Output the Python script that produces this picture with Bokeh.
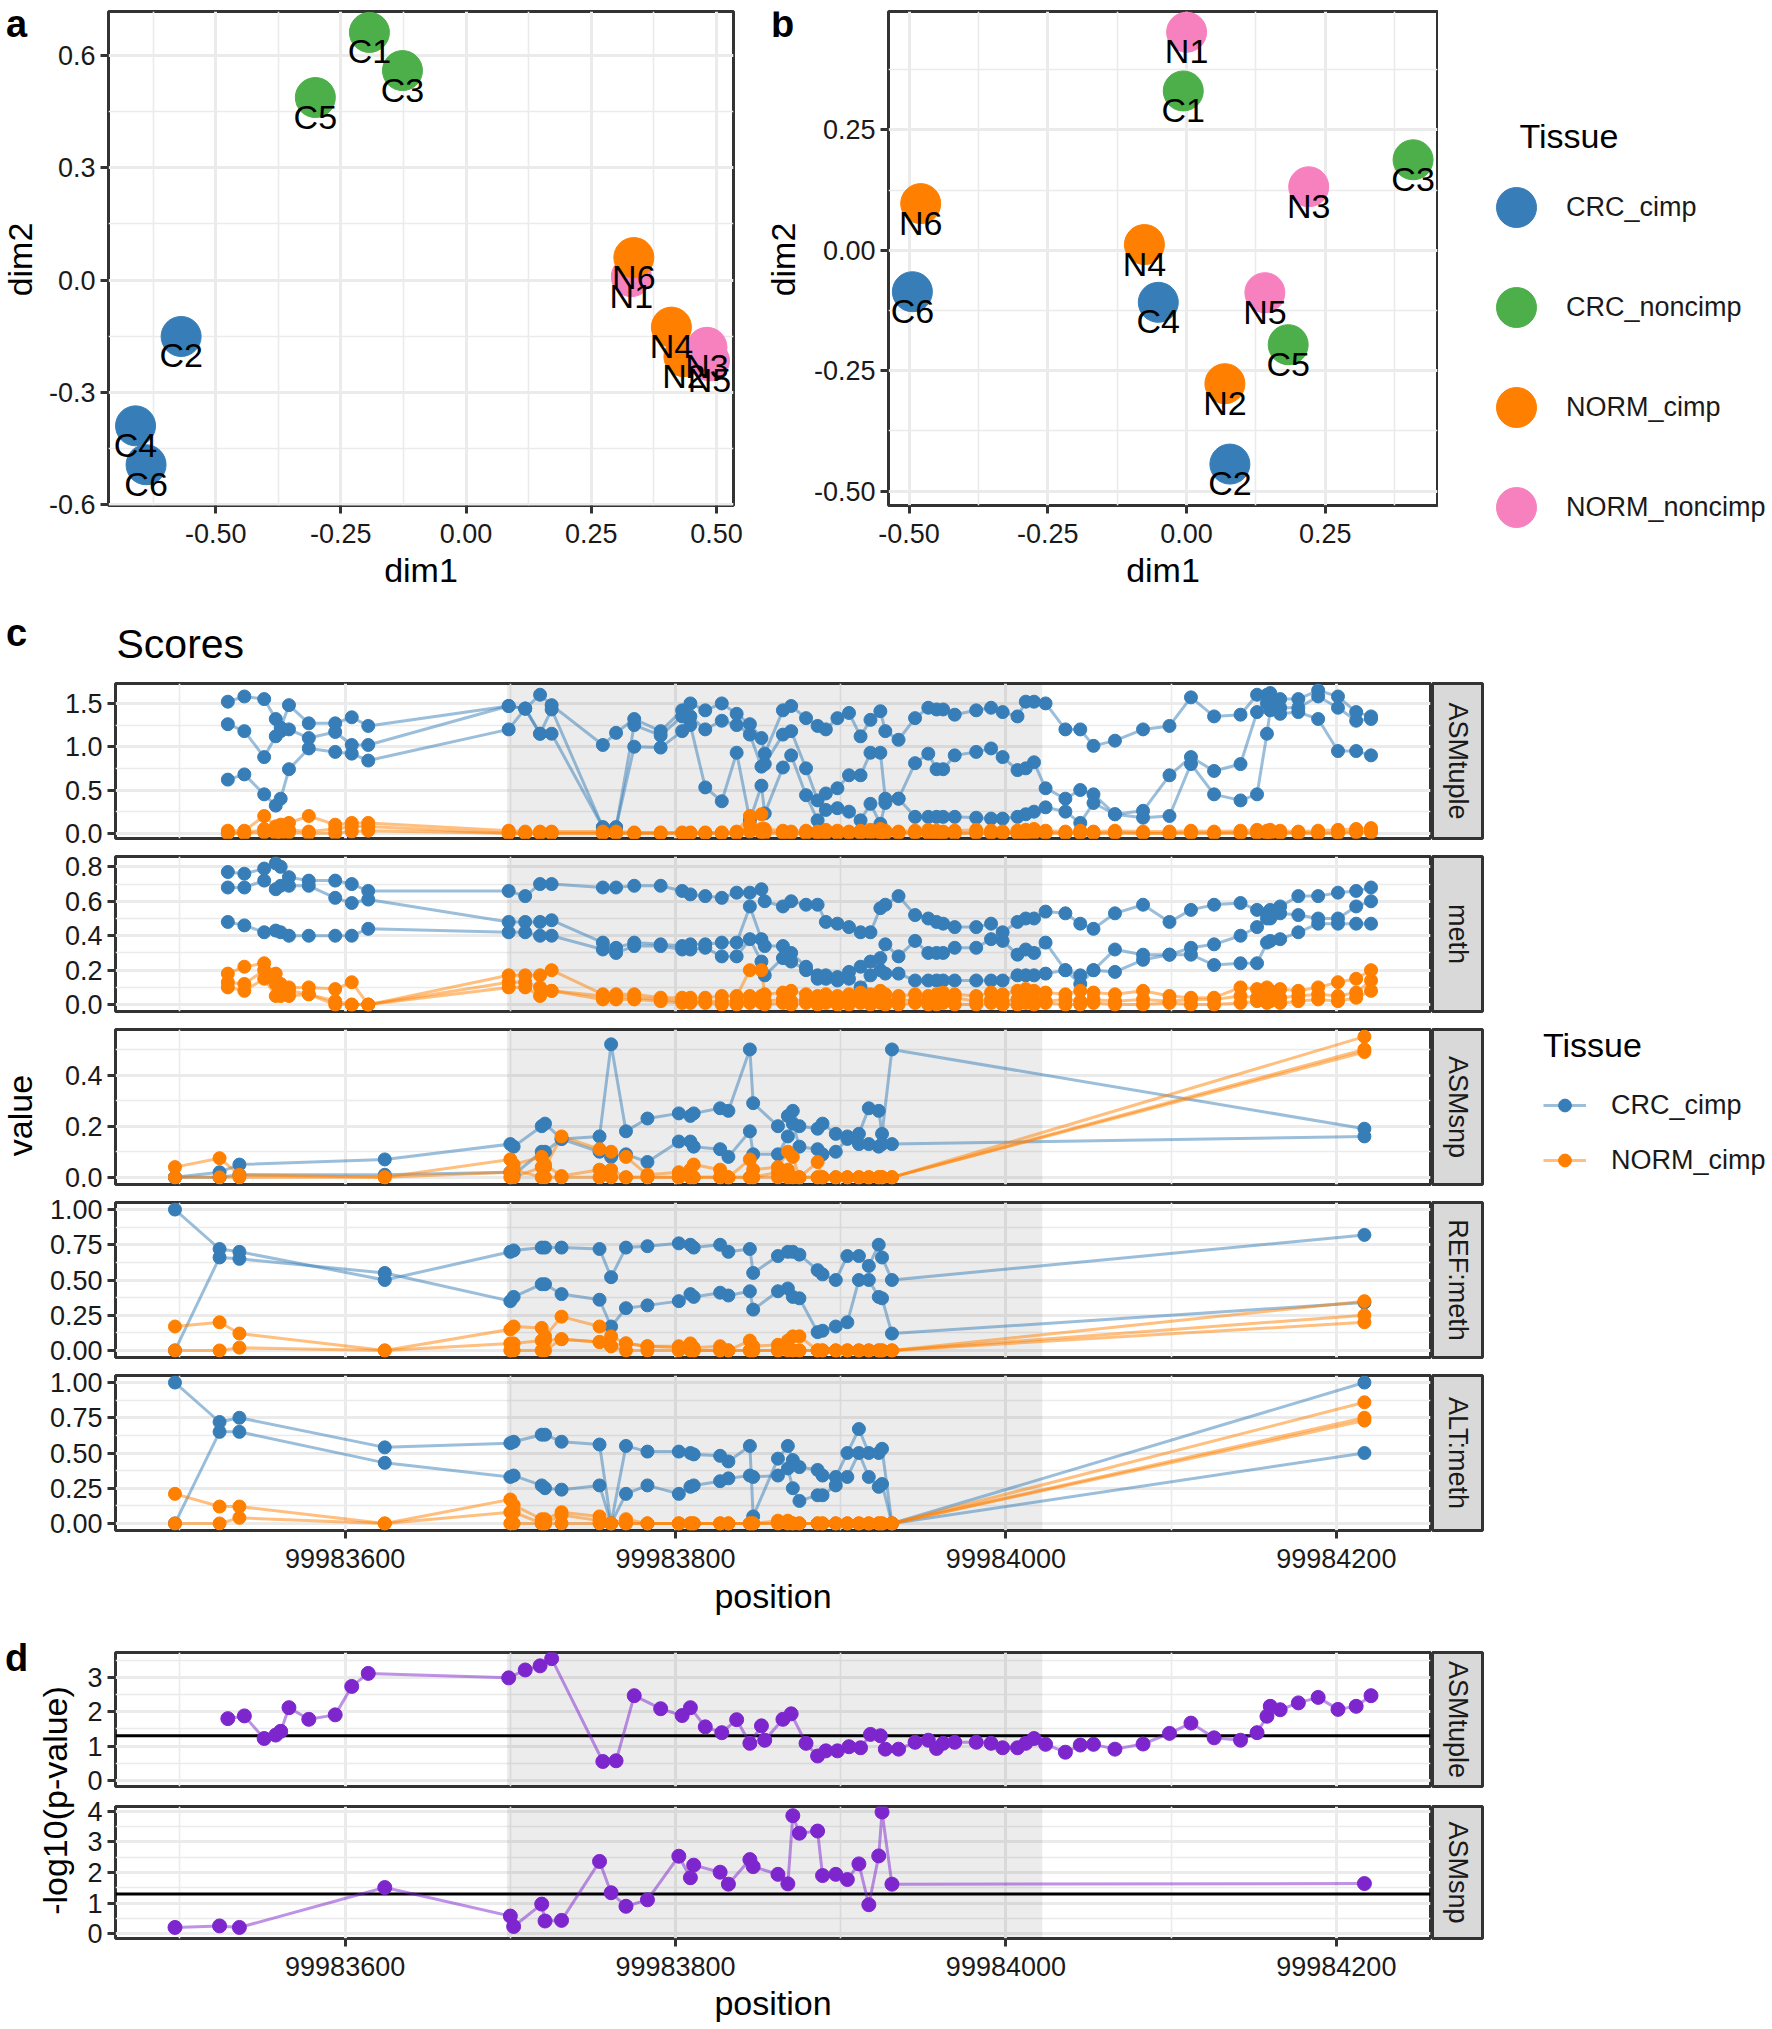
import math
from bokeh.plotting import figure
from bokeh.models import (Range1d, FixedTicker, NumeralTickFormatter, Label, Legend, LegendItem,
                          BoxAnnotation, Span, ColumnDataSource)
from bokeh.layouts import row, column
from bokeh.embed import file_html
from bokeh.resources import INLINE
from bokeh.core.properties import value

# ---------------- panels a / b : MDS ----------------
SAMPLES = ["C1", "C2", "C3", "C4", "C5", "C6", "N1", "N2", "N4", "N6", "N3", "N5"]
TISSUE = ["CRC_noncimp", "CRC_cimp", "CRC_noncimp", "CRC_cimp", "CRC_noncimp", "CRC_cimp",
          "NORM_noncimp", "NORM_cimp", "NORM_cimp", "NORM_cimp", "NORM_noncimp", "NORM_noncimp"]
A_DIM1 = [-0.193, -0.569, -0.127, -0.660, -0.301, -0.639, 0.330, 0.435, 0.410, 0.335, 0.481, 0.486]
A_DIM2 = [0.662, -0.151, 0.560, -0.390, 0.488, -0.494, 0.009, -0.205, -0.126, 0.060, -0.180, -0.216]
B_DIM1 = [-0.006, 0.078, 0.408, -0.051, 0.183, -0.494, 0.000, 0.069, -0.076, -0.479, 0.220, 0.141]
B_DIM2 = [0.331, -0.444, 0.188, -0.108, -0.196, -0.086, 0.453, -0.277, 0.012, 0.097, 0.132, -0.088]
TISSUE_LEVELS = ["CRC_cimp", "CRC_noncimp", "NORM_cimp", "NORM_noncimp"]
TISSUE_COLORS = ["#377EB8", "#4DAF4A", "#FF7F00", "#F781BF"]

# ---------------- panel c : CpG tuple scores ----------------
TUPLE_POS = [99983529, 99983539, 99983551, 99983558, 99983561, 99983566, 99983578, 99983594, 99983604, 99983614,
             99983699, 99983709, 99983718, 99983725, 99983756, 99983764, 99983775, 99983791, 99983804, 99983809,
             99983818, 99983828, 99983837, 99983845, 99983852, 99983854, 99983865, 99983870, 99983879, 99983886,
             99983891, 99983898, 99983905, 99983912, 99983918, 99983924, 99983927, 99983935, 99983945, 99983953,
             99983958, 99983962, 99983969, 99983982, 99983991, 99983998, 99984007, 99984012, 99984017, 99984024,
             99984036, 99984045, 99984053, 99984066, 99984083, 99984099, 99984112, 99984126, 99984142, 99984152,
             99984158, 99984160, 99984166, 99984177, 99984189, 99984201, 99984212, 99984221]

ASMTUPLE_CRC_1 = [1.52, 1.58, 1.55, 1.32, 1.22, 1.48, 1.27, 1.27, 1.34, 1.24,
                  1.47, 1.44, 1.60, 1.48, 1.02, 1.16, 1.32, 1.18, 1.42, 1.50,
                  1.42, 1.50, 1.38, 1.26, 1.10, 0.92, 1.42, 1.47, 1.33, 1.24,
                  1.20, 1.33, 1.39, 1.12, 1.31, 1.41, 1.18, 1.08, 1.33, 1.45,
                  1.43, 1.43, 1.37, 1.42, 1.45, 1.40, 1.35, 1.52, 1.52, 1.50,
                  1.20, 1.20, 1.01, 1.07, 1.20, 1.24, 1.57, 1.35, 1.37, 1.60,
                  1.60, 1.62, 1.55, 1.55, 1.65, 1.58, 1.40, 1.35]
ASMTUPLE_CRC_2 = [1.26, 1.18, 0.88, 1.12, 1.18, 1.20, 1.10, 1.17, 1.02, 1.02,
                  1.47, 1.44, 1.15, 1.43, 0.07, 0.07, 1.25, 1.13, 1.35, 1.35,
                  1.20, 1.30, 1.25, 1.14, 0.77, 0.80, 1.14, 1.18, 0.75, 0.38,
                  0.46, 0.52, 0.67, 0.67, 0.93, 0.93, 0.40, 0.40, 0.81, 0.92,
                  0.74, 0.74, 0.90, 0.94, 0.98, 0.88, 0.73, 0.75, 0.82, 0.52,
                  0.40, 0.50, 0.45, 0.22, 0.26, 0.67, 0.88, 0.72, 0.80, 1.40,
                  1.50, 1.55, 1.45, 1.45, 1.58, 1.45, 1.30, 1.32]
ASMTUPLE_CRC_3 = [0.62, 0.68, 0.45, 0.32, 0.40, 0.74, 0.98, 0.94, 0.92, 0.84,
                  1.20, 1.44, 1.15, 1.15, 0.07, 0.07, 1.00, 0.99, 1.18, 1.25,
                  0.53, 0.37, 0.93, 0.15, 0.55, 0.23, 0.76, 0.90, 0.44, 0.15,
                  0.27, 0.29, 0.25, 0.15, 0.34, 0.11, 0.35, 0.40, 0.19, 0.19,
                  0.19, 0.19, 0.19, 0.18, 0.17, 0.17, 0.19, 0.22, 0.25, 0.30,
                  0.25, 0.12, 0.35, 0.22, 0.18, 0.20, 0.80, 0.45, 0.38, 0.45,
                  1.15, 1.42, 1.38, 1.40, 1.32, 0.95, 0.95, 0.90]
ASMTUPLE_NORM_1 = [0.03, 0.03, 0.20, 0.08, 0.10, 0.12, 0.20, 0.10, 0.12, 0.12,
                   0.03, 0.02, 0.02, 0.02, 0.02, 0.02, 0.01, 0.01, 0.01, 0.01,
                   0.01, 0.01, 0.02, 0.20, 0.22, 0.05, 0.03, 0.02, 0.03, 0.02,
                   0.04, 0.03, 0.02, 0.03, 0.04, 0.05, 0.03, 0.02, 0.03, 0.04,
                   0.03, 0.02, 0.03, 0.04, 0.03, 0.02, 0.03, 0.04, 0.05, 0.03,
                   0.02, 0.03, 0.02, 0.03, 0.02, 0.02, 0.03, 0.02, 0.03, 0.04,
                   0.03, 0.04, 0.03, 0.02, 0.03, 0.04, 0.05, 0.06]
ASMTUPLE_NORM_2 = [0.00, 0.00, 0.05, 0.03, 0.05, 0.04, 0.02, 0.05, 0.08, 0.08,
                   0.00, 0.00, 0.00, 0.00, 0.00, 0.00, 0.00, 0.00, 0.00, 0.00,
                   0.00, 0.00, 0.00, 0.10, 0.05, 0.02, 0.01, 0.01, 0.00, 0.01,
                   0.01, 0.00, 0.01, 0.01, 0.02, 0.01, 0.00, 0.01, 0.01, 0.00,
                   0.01, 0.01, 0.00, 0.01, 0.01, 0.01, 0.00, 0.01, 0.02, 0.01,
                   0.00, 0.01, 0.00, 0.01, 0.00, 0.00, 0.01, 0.00, 0.01, 0.01,
                   0.01, 0.02, 0.01, 0.01, 0.00, 0.01, 0.02, 0.03]
ASMTUPLE_NORM_3 = [0.00, 0.00, 0.01, 0.00, 0.00, 0.01, 0.00, 0.00, 0.02, 0.03,
                   0.00, 0.00, 0.00, 0.00, 0.00, 0.00, 0.00, 0.00, 0.00, 0.00,
                   0.00, 0.00, 0.00, 0.02, 0.01, 0.00, 0.00, 0.00, 0.00, 0.00,
                   0.00, 0.00, 0.00, 0.00, 0.00, 0.00, 0.00, 0.00, 0.00, 0.00,
                   0.00, 0.00, 0.00, 0.00, 0.00, 0.00, 0.00, 0.00, 0.00, 0.00,
                   0.00, 0.00, 0.00, 0.00, 0.00, 0.00, 0.00, 0.00, 0.00, 0.00,
                   0.00, 0.00, 0.00, 0.00, 0.00, 0.00, 0.01, 0.01]

METH_CRC_1 = [0.77, 0.76, 0.79, 0.82, 0.80, 0.74, 0.72, 0.72, 0.70, 0.66,
              0.66, 0.63, 0.70, 0.70, 0.68, 0.68, 0.69, 0.69, 0.66, 0.64,
              0.63, 0.62, 0.65, 0.65, 0.67, 0.60, 0.57, 0.60, 0.58, 0.58,
              0.48, 0.47, 0.45, 0.42, 0.42, 0.56, 0.58, 0.63, 0.52, 0.50,
              0.48, 0.47, 0.45, 0.45, 0.47, 0.42, 0.48, 0.50, 0.50, 0.54,
              0.53, 0.47, 0.44, 0.53, 0.58, 0.48, 0.55, 0.58, 0.59, 0.55,
              0.53, 0.55, 0.57, 0.63, 0.63, 0.65, 0.66, 0.68]
METH_CRC_2 = [0.68, 0.68, 0.72, 0.67, 0.69, 0.69, 0.69, 0.62, 0.59, 0.61,
              0.48, 0.48, 0.48, 0.49, 0.36, 0.33, 0.36, 0.35, 0.34, 0.35,
              0.35, 0.36, 0.36, 0.57, 0.38, 0.34, 0.34, 0.30, 0.22, 0.17,
              0.17, 0.16, 0.19, 0.22, 0.25, 0.27, 0.35, 0.28, 0.37, 0.30,
              0.30, 0.30, 0.33, 0.33, 0.38, 0.37, 0.29, 0.32, 0.30, 0.36,
              0.20, 0.17, 0.20, 0.32, 0.29, 0.29, 0.33, 0.35, 0.40, 0.45,
              0.50, 0.50, 0.53, 0.52, 0.50, 0.50, 0.57, 0.60]
METH_CRC_3 = [0.48, 0.46, 0.42, 0.43, 0.42, 0.40, 0.40, 0.40, 0.40, 0.44,
              0.42, 0.42, 0.40, 0.40, 0.32, 0.30, 0.34, 0.34, 0.32, 0.32,
              0.33, 0.28, 0.28, 0.38, 0.25, 0.17, 0.27, 0.25, 0.20, 0.15,
              0.15, 0.14, 0.15, 0.10, 0.17, 0.20, 0.18, 0.18, 0.14, 0.14,
              0.14, 0.14, 0.14, 0.14, 0.14, 0.14, 0.17, 0.17, 0.17, 0.18,
              0.20, 0.12, 0.20, 0.19, 0.26, 0.29, 0.29, 0.23, 0.24, 0.24,
              0.36, 0.37, 0.38, 0.42, 0.47, 0.47, 0.47, 0.47]
METH_NORM_1 = [0.18, 0.22, 0.24, 0.18, 0.12, 0.10, 0.10, 0.09, 0.13, 0.00,
               0.17, 0.17, 0.17, 0.20, 0.06, 0.06, 0.06, 0.04, 0.04, 0.04,
               0.04, 0.05, 0.05, 0.20, 0.20, 0.06, 0.07, 0.08, 0.06, 0.05,
               0.06, 0.05, 0.06, 0.07, 0.06, 0.08, 0.06, 0.05, 0.06, 0.05,
               0.06, 0.07, 0.06, 0.05, 0.07, 0.06, 0.08, 0.09, 0.08, 0.07,
               0.06, 0.08, 0.07, 0.06, 0.08, 0.05, 0.04, 0.04, 0.10, 0.09,
               0.10, 0.08, 0.09, 0.08, 0.10, 0.13, 0.15, 0.20]
METH_NORM_2 = [0.13, 0.12, 0.20, 0.12, 0.10, 0.08, 0.06, 0.02, 0.00, 0.00,
               0.13, 0.13, 0.10, 0.08, 0.05, 0.05, 0.04, 0.03, 0.02, 0.02,
               0.02, 0.02, 0.02, 0.05, 0.05, 0.02, 0.03, 0.02, 0.03, 0.04,
               0.02, 0.03, 0.02, 0.03, 0.04, 0.03, 0.02, 0.03, 0.02, 0.03,
               0.02, 0.03, 0.04, 0.02, 0.03, 0.02, 0.03, 0.04, 0.03, 0.02,
               0.03, 0.02, 0.03, 0.02, 0.03, 0.02, 0.03, 0.03, 0.05, 0.04,
               0.06, 0.05, 0.04, 0.05, 0.06, 0.05, 0.07, 0.14]
METH_NORM_3 = [0.10, 0.08, 0.15, 0.05, 0.05, 0.05, 0.06, 0.00, 0.00, 0.00,
               0.10, 0.10, 0.05, 0.08, 0.03, 0.03, 0.03, 0.02, 0.01, 0.01,
               0.01, 0.00, 0.00, 0.01, 0.01, 0.00, 0.01, 0.00, 0.01, 0.00,
               0.01, 0.00, 0.00, 0.01, 0.00, 0.01, 0.00, 0.00, 0.01, 0.00,
               0.00, 0.01, 0.00, 0.00, 0.01, 0.00, 0.00, 0.01, 0.00, 0.01,
               0.00, 0.00, 0.01, 0.00, 0.00, 0.01, 0.00, 0.00, 0.01, 0.02,
               0.01, 0.02, 0.01, 0.02, 0.03, 0.02, 0.04, 0.08]

# ---------------- panel c : SNP based scores ----------------
SNP_POS = [99983497, 99983524, 99983536, 99983624, 99983700, 99983702, 99983719, 99983721, 99983731, 99983754,
           99983761, 99983770, 99983783, 99983802, 99983809, 99983811, 99983827, 99983832, 99983845, 99983847,
           99983862, 99983868, 99983871, 99983875, 99983886, 99983889, 99983897, 99983904, 99983911, 99983917,
           99983923, 99983925, 99983931, 99984217]

ASMSNP_CRC_1 = [0.00, 0.02, 0.05, 0.07, 0.13, 0.12, 0.20, 0.21, 0.15, 0.16, 0.52, 0.18, 0.23, 0.25, 0.24, 0.25, 0.27,
                0.26, 0.50, 0.29, 0.20, 0.24, 0.26, 0.20, 0.19, 0.21, 0.17, 0.16, 0.17, 0.27, 0.26, 0.17, 0.50, 0.19]
ASMSNP_CRC_2 = [0.00, 0.00, 0.01, 0.01, 0.02, 0.01, 0.10, 0.10, 0.15, 0.10, 0.08, 0.09, 0.06, 0.14, 0.14, 0.12, 0.11,
                0.08, 0.18, 0.09, 0.09, 0.16, 0.21, 0.12, 0.11, 0.09, 0.10, 0.15, 0.13, 0.13, 0.12, 0.13, 0.13, 0.16]
ASMSNP_NORM_1 = [0.04, 0.075, 0.01, 0.00, 0.07, 0.05, 0.08, 0.04, 0.16, 0.11, 0.10, 0.08, 0.01, 0.02, 0.03, 0.05, 0.03,
                 0.00, 0.07, 0.03, 0.04, 0.10, 0.08, 0.00, 0.06, 0.00, 0.00, 0.00, 0.00, 0.00, 0.00, 0.00, 0.00, 0.55]
ASMSNP_NORM_2 = [0.00, 0.00, 0.00, 0.00, 0.02, 0.00, 0.04, 0.05, 0.005, 0.03, 0.03, 0.00, 0.00, 0.00, 0.00, 0.00, 0.00,
                 0.00, 0.00, 0.00, 0.02, 0.03, 0.00, 0.00, 0.00, 0.00, 0.00, 0.00, 0.00, 0.00, 0.00, 0.00, 0.00, 0.50]
ASMSNP_NORM_3 = [None, None, None, None, 0.00, 0.03, 0.00, 0.00, 0.00, 0.00, 0.00, 0.00, 0.00, 0.00, 0.00, 0.00, 0.00,
                 0.00, 0.00, 0.00, 0.00, 0.00, 0.00, 0.00, 0.00, 0.00, 0.00, 0.00, 0.00, 0.00, 0.00, 0.00, 0.00, 0.49]

REF_CRC_1 = [1.00, 0.72, 0.70, 0.50, 0.70, 0.71, 0.73, 0.73, 0.73, 0.72, 0.52, 0.73, 0.74, 0.76, 0.75, 0.73, 0.75,
             0.70, 0.72, 0.55, 0.67, 0.70, 0.70, 0.68, 0.57, 0.54, 0.50, 0.67, 0.67, 0.60, 0.75, 0.66, 0.50, 0.82]
REF_CRC_2 = [0.00, 0.66, 0.65, 0.55, 0.35, 0.38, 0.47, 0.47, 0.40, 0.36, 0.17, 0.30, 0.32, 0.35, 0.40, 0.38, 0.41,
             0.39, 0.42, 0.29, 0.42, 0.44, 0.38, 0.37, 0.13, 0.14, 0.17, 0.20, 0.50, 0.50, 0.38, 0.37, 0.12, 0.34]
REF_NORM_1 = [0.17, 0.20, 0.12, 0.00, 0.15, 0.17, 0.16, 0.10, 0.24, 0.17, 0.10, 0.05, 0.03, 0.03, 0.05, 0.02, 0.03,
              0.00, 0.07, 0.03, 0.04, 0.07, 0.10, 0.10, 0.00, 0.00, 0.00, 0.00, 0.00, 0.00, 0.00, 0.00, 0.00, 0.35]
REF_NORM_2 = [0.00, 0.00, 0.02, 0.00, 0.05, 0.05, 0.07, 0.07, 0.08, 0.06, 0.03, 0.05, 0.03, 0.02, 0.02, 0.00, 0.00,
              0.00, 0.00, 0.00, 0.00, 0.02, 0.00, 0.00, 0.00, 0.00, 0.00, 0.00, 0.00, 0.00, 0.00, 0.00, 0.00, 0.25]
REF_NORM_3 = [None, None, None, None, 0.00, 0.00, 0.00, 0.00, 0.08, 0.06, 0.03, 0.00, 0.00, 0.00, 0.00, 0.00, 0.00,
              0.00, 0.00, 0.00, 0.00, 0.00, 0.00, 0.00, 0.00, 0.00, 0.00, 0.00, 0.00, 0.00, 0.00, 0.00, 0.00, 0.20]

ALT_CRC_1 = [1.00, 0.72, 0.75, 0.54, 0.57, 0.58, 0.63, 0.63, 0.58, 0.56, 0.00, 0.55, 0.51, 0.51, 0.50, 0.49, 0.48,
             0.44, 0.55, 0.05, 0.46, 0.55, 0.45, 0.40, 0.38, 0.34, 0.33, 0.50, 0.67, 0.50, 0.50, 0.53, 0.00, 1.00]
ALT_CRC_2 = [0.00, 0.65, 0.65, 0.43, 0.33, 0.34, 0.27, 0.25, 0.24, 0.27, 0.00, 0.21, 0.27, 0.21, 0.26, 0.27, 0.30,
             0.32, 0.34, 0.33, 0.34, 0.39, 0.25, 0.16, 0.20, 0.20, 0.27, 0.33, 0.50, 0.33, 0.26, 0.28, 0.00, 0.50]
ALT_NORM_1 = [0.21, 0.12, 0.12, 0.00, 0.17, 0.13, 0.03, 0.03, 0.08, 0.05, 0.00, 0.03, 0.00, 0.00, 0.00, 0.00, 0.00,
              0.00, 0.00, 0.00, 0.02, 0.02, 0.00, 0.00, 0.00, 0.00, 0.00, 0.00, 0.00, 0.00, 0.00, 0.00, 0.00, 0.86]
ALT_NORM_2 = [0.00, 0.00, 0.04, 0.00, 0.08, 0.08, 0.00, 0.00, 0.06, 0.02, 0.00, 0.00, 0.00, 0.00, 0.00, 0.00, 0.00,
              0.00, 0.00, 0.00, 0.00, 0.00, 0.00, 0.00, 0.00, 0.00, 0.00, 0.00, 0.00, 0.00, 0.00, 0.00, 0.00, 0.75]
ALT_NORM_3 = [None, None, None, None, 0.00, 0.00, 0.00, 0.00, 0.00, 0.00, 0.00, 0.00, 0.00, 0.00, 0.00, 0.00, 0.00,
              0.00, 0.00, 0.00, 0.00, 0.00, 0.00, 0.00, 0.00, 0.00, 0.00, 0.00, 0.00, 0.00, 0.00, 0.00, 0.00, 0.73]

# ---------------- panel d : -log10(p-value) ----------------
PVAL_TUPLE = [1.80, 1.88, 1.22, 1.32, 1.43, 2.12, 1.78, 1.91, 2.74, 3.12,
              2.99, 3.22, 3.34, 3.55, 0.55, 0.57, 2.47, 2.09, 1.89, 2.12,
              1.56, 1.39, 1.77, 1.08, 1.59, 1.17, 1.78, 1.94, 1.08, 0.71,
              0.86, 0.86, 0.98, 0.95, 1.34, 1.30, 0.91, 0.91, 1.11, 1.17,
              0.93, 1.08, 1.11, 1.11, 1.08, 0.95, 0.95, 1.08, 1.22, 1.05,
              0.82, 1.03, 1.05, 0.91, 1.06, 1.37, 1.67, 1.24, 1.17, 1.39,
              1.87, 2.16, 2.06, 2.26, 2.42, 2.07, 2.16, 2.47]
PVAL_SNP = [0.21, 0.26, 0.21, 1.51, 0.58, 0.24, 0.97, 0.42, 0.44, 2.36, 1.34, 0.90, 1.11, 2.53, 1.83, 2.24, 2.01,
            1.62, 2.42, 2.19, 1.94, 1.63, 3.85, 3.28, 3.35, 1.90, 1.94, 1.77, 2.28, 0.95, 2.54, 3.97, 1.62, 1.64]
SIG_LEVEL = 0.05
DMR = [99983698, 99984022]

# ---------------- styling ----------------
FONT = "Liberation Sans"
TXT = "#1A1A1A"
GRID = "#EBEBEB"
BORDER = "#333333"
TICK_FS = "27px"
LAB_FS = "34px"
PURPLE = "#7D26CD"
COLOR = dict(zip(TISSUE_LEVELS, TISSUE_COLORS))
NAN = float("nan")


def base(fw, fh, xr, yr, l, r, t, b, axes=True):
    kw = dict(frame_width=fw, frame_height=fh, x_range=xr, y_range=yr,
              min_border_left=l, min_border_right=r, min_border_top=t, min_border_bottom=b,
              output_backend="svg", toolbar_location=None, title=None)
    if not axes:
        kw["x_axis_location"] = None
        kw["y_axis_location"] = None
    p = figure(**kw)
    p.background_fill_color = "white"
    p.border_fill_color = "white"
    p.outline_line_color = BORDER
    p.outline_line_width = 3
    if not axes:
        p.grid.visible = False
    return p


def blank(w, h):
    p = base(w, h, Range1d(0, 1), Range1d(0, 1), 0, 0, 0, 0, axes=False)
    p.outline_line_color = None
    return p


def style(p, xt, xm, yt, ym, xfmt, yfmt, show_x=True):
    tx = FixedTicker(ticks=xt, minor_ticks=xm)
    ty = FixedTicker(ticks=yt, minor_ticks=ym)
    p.xaxis.ticker = tx
    p.yaxis.ticker = ty
    p.xgrid.ticker = tx
    p.ygrid.ticker = ty
    for g in (p.xgrid, p.ygrid):
        g.grid_line_color = GRID
        g.grid_line_width = 3
        g.minor_grid_line_color = GRID
        g.minor_grid_line_width = 1.6
    p.xaxis.formatter = NumeralTickFormatter(format=xfmt)
    p.yaxis.formatter = NumeralTickFormatter(format=yfmt)
    for ax in (p.xaxis, p.yaxis):
        ax.axis_line_color = None
        ax.major_tick_line_color = BORDER
        ax.major_tick_line_width = 3
        ax.major_tick_out = 8
        ax.major_tick_in = 0
        ax.minor_tick_line_color = None
        ax.major_label_text_font = FONT
        ax.major_label_text_font_size = TICK_FS
        ax.major_label_text_color = TXT
        ax.major_label_standoff = 5
        ax.axis_label_text_font = FONT
        ax.axis_label_text_font_size = LAB_FS
        ax.axis_label_text_font_style = "normal"
        ax.axis_label_text_color = "black"
    p.xaxis.major_label_standoff = 10
    if not show_x:
        p.xaxis.visible = False


def add_label(p, text, x, y, size, angle=0.0, align="center", bold=False, baseline="middle"):
    p.add_layout(Label(x=x, y=y, x_units="screen", y_units="screen", text=text,
                       text_font=FONT, text_font_size=size, text_color="black", angle=angle,
                       text_align=align, text_baseline=baseline,
                       text_font_style="bold" if bold else "normal"))


def mds_panel(fw, l, r, xr, yr, xt, xm, yt, ym, xfmt, yfmt, d1, d2):
    p = base(fw, 494, xr, yr, l, r, 11, 100)
    style(p, xt, xm, yt, ym, xfmt, yfmt)
    p.xaxis.axis_label = "dim1"
    p.xaxis.axis_label_standoff = 5
    src = ColumnDataSource(dict(x=d1, y=d2, label=SAMPLES, color=[COLOR[t] for t in TISSUE]))
    p.scatter("x", "y", source=src, size=40, color="color", marker="circle")
    p.text("x", "y", text="label", source=src, y_offset=19, text_align="center", text_baseline="middle",
           text_font=value(FONT), text_font_size=LAB_FS, text_color="black")
    return p


# ----- row 1 : panels a, b and legend -----
lab_a = blank(44, 605)
add_label(lab_a, "a", 16, 593, "38px", bold=True)
add_label(lab_a, "dim2", 19, 357, LAB_FS, angle=math.pi / 2)

fa = mds_panel(625, 64, 27, Range1d(-0.714, 0.534), Range1d(-0.603, 0.718),
               [-0.5, -0.25, 0.0, 0.25, 0.5], [-0.625, -0.375, -0.125, 0.125, 0.375],
               [-0.6, -0.3, 0.0, 0.3, 0.6], [-0.45, -0.15, 0.15, 0.45], "0.00", "0.0", A_DIM1, A_DIM2)

lab_b = blank(46, 605)
add_label(lab_b, "b", 22, 593, "38px", bold=True)
add_label(lab_b, "dim2", 22, 357, LAB_FS, angle=math.pi / 2)

fb = mds_panel(549, 82, 1, Range1d(-0.537, 0.452), Range1d(-0.530, 0.496),
               [-0.5, -0.25, 0.0, 0.25], [-0.375, -0.125, 0.125, 0.375],
               [-0.5, -0.25, 0.0, 0.25], [-0.375, -0.125, 0.125, 0.375], "0.00", "0.00", B_DIM1, B_DIM2)

leg_title = blank(332, 157)
add_label(leg_title, "Tissue", 53, 22, LAB_FS, align="left")
leg_ab = base(304, 448, Range1d(0, 1), Range1d(0, 1), 28, 0, 0, 0, axes=False)
leg_ab.outline_line_color = None
ab_items = []
for t, c in zip(TISSUE_LEVELS, TISSUE_COLORS):
    r = leg_ab.scatter(x=[NAN], y=[NAN], size=40, color=c, marker="circle")
    ab_items.append(LegendItem(label=t, renderers=[r]))
lg_ab = Legend(items=ab_items, location="top_left", glyph_width=100, glyph_height=100, label_height=30,
               label_standoff=0, padding=0, margin=0, border_line_color=None, background_fill_alpha=0,
               label_text_font=FONT, label_text_font_size=TICK_FS, label_text_color=TXT)
try:
    lg_ab.spacing = -45
except Exception:
    lg_ab.glyph_width = 55
    lg_ab.glyph_height = 55
    lg_ab.spacing = 0
leg_ab.add_layout(lg_ab)

# ----- header of panel c -----
hdr_c = blank(1770, 76)
add_label(hdr_c, "c", 16, 49, "38px", bold=True)
add_label(hdr_c, "Scores", 116, 38, "41px", align="left")

# ----- facets -----
XT = [99983600, 99983800, 99984000, 99984200]
XM = [99983500, 99983700, 99983900, 99984100]
XR = (99983461, 99984257)


def facet_frame(fh, l, t, b, yr, yt, ym, yfmt, show_x, xl_standoff):
    p = base(1315, fh, Range1d(*XR), Range1d(*yr), l, 2, t, b)
    style(p, XT, XM, yt, ym, "0", yfmt, show_x=show_x)
    if show_x:
        p.xaxis.axis_label = "position"
        p.xaxis.axis_label_standoff = xl_standoff
    p.add_layout(BoxAnnotation(left=DMR[0], right=DMR[1], fill_color="black", fill_alpha=0.075,
                               line_color=None, level="underlay"))
    return p


def draw_groups(p, xs, blues, oranges):
    groups = [(COLOR["CRC_cimp"], s) for s in blues] + [(COLOR["NORM_cimp"], s) for s in oranges]
    cleaned = []
    for c, s in groups:
        xx = [x for x, v in zip(xs, s) if v is not None]
        yy = [v for v in s if v is not None]
        cleaned.append((c, xx, yy))
    for c, xx, yy in cleaned:
        p.line(xx, yy, line_color=c, line_alpha=0.5, line_width=3)
    for c, xx, yy in cleaned:
        p.scatter(xx, yy, size=13, color=c, marker="circle")


def strip(name, fh, t, b):
    s = base(50, fh, Range1d(0, 1), Range1d(0, 1), 0, 2, t, b, axes=False)
    s.background_fill_color = "#D9D9D9"
    s.text(x=[0.5], y=[0.5], text=[name], angle=-math.pi / 2, text_align="center", text_baseline="middle",
           text_font=value(FONT), text_font_size=TICK_FS, text_color=TXT)
    return s


C_FACETS = [
    ("ASMtuple", TUPLE_POS, [ASMTUPLE_CRC_1, ASMTUPLE_CRC_2, ASMTUPLE_CRC_3],
     [ASMTUPLE_NORM_1, ASMTUPLE_NORM_2, ASMTUPLE_NORM_3],
     (-0.06, 1.73), [0, 0.5, 1.0, 1.5], [0.25, 0.75, 1.25], "0.0"),
    ("meth", TUPLE_POS, [METH_CRC_1, METH_CRC_2, METH_CRC_3], [METH_NORM_1, METH_NORM_2, METH_NORM_3],
     (-0.04, 0.86), [0, 0.2, 0.4, 0.6, 0.8], [0.1, 0.3, 0.5, 0.7], "0.0"),
    ("ASMsnp", SNP_POS, [ASMSNP_CRC_1, ASMSNP_CRC_2], [ASMSNP_NORM_1, ASMSNP_NORM_2, ASMSNP_NORM_3],
     (-0.028, 0.578), [0, 0.2, 0.4], [0.1, 0.3, 0.5], "0.0"),
    ("REF:meth", SNP_POS, [REF_CRC_1, REF_CRC_2], [REF_NORM_1, REF_NORM_2, REF_NORM_3],
     (-0.05, 1.05), [0, 0.25, 0.5, 0.75, 1.0], [0.125, 0.375, 0.625, 0.875], "0.00"),
    ("ALT:meth", SNP_POS, [ALT_CRC_1, ALT_CRC_2], [ALT_NORM_1, ALT_NORM_2, ALT_NORM_3],
     (-0.05, 1.05), [0, 0.25, 0.5, 0.75, 1.0], [0.125, 0.375, 0.625, 0.875], "0.00"),
]
C_TOP = [2, 8, 8, 8, 8]
C_BOT = [10, 10, 10, 10, 100]

c_rows = []
for i, (name, xs, blues, oranges, yr, yt, ym, yfmt) in enumerate(C_FACETS):
    last = i == len(C_FACETS) - 1
    p = facet_frame(155, 75, C_TOP[i], C_BOT[i], yr, yt, ym, yfmt, last, 6)
    draw_groups(p, xs, blues, oranges)
    lab = blank(40, C_TOP[i] + 155 + C_BOT[i])
    if i == 2:
        add_label(lab, "value", 19, 87, LAB_FS, angle=math.pi / 2)
    c_rows.append(row(lab, p, strip(name, 155, C_TOP[i], C_BOT[i])))

C_H = sum(C_TOP) + 5 * 155 + sum(C_BOT)
leg_c = base(227, C_H - 345, Range1d(0, 1), Range1d(0, 1), 59, 0, 345, 0, axes=False)
leg_c.outline_line_color = None
c_items = []
for t in ["CRC_cimp", "NORM_cimp"]:
    r1 = leg_c.line(x=[NAN, NAN], y=[NAN, NAN], line_color=COLOR[t], line_alpha=0.5, line_width=3)
    r2 = leg_c.scatter(x=[NAN], y=[NAN], size=13, color=COLOR[t], marker="circle")
    c_items.append(LegendItem(label=t, renderers=[r1, r2]))
lg_c = Legend(items=c_items, location="top_left", title="Tissue",
              glyph_width=43, glyph_height=32, label_height=32, spacing=23, label_standoff=25,
              padding=0, margin=0, title_standoff=24, border_line_color=None, background_fill_alpha=0,
              label_text_font=FONT, label_text_font_size=TICK_FS, label_text_color=TXT,
              title_text_font=FONT, title_text_font_size=LAB_FS, title_text_font_style="normal",
              title_text_color="black")
leg_c.add_layout(lg_c)

# ----- panel d -----
threshold = -math.log10(SIG_LEVEL)
D_FACETS = [
    ("ASMtuple", TUPLE_POS, PVAL_TUPLE, (-0.18, 3.73), [0, 1, 2, 3], [0.5, 1.5, 2.5, 3.5]),
    ("ASMsnp", SNP_POS, PVAL_SNP, (-0.15, 4.15), [0, 1, 2, 3, 4], [0.5, 1.5, 2.5, 3.5]),
]
D_FH = [134, 132]
D_TOP = [22, 10]
D_BOT = [10, 88]
dfigs, dstrips = [], []
for i, (name, xs, ys, yr, yt, ym) in enumerate(D_FACETS):
    last = i == len(D_FACETS) - 1
    p = facet_frame(D_FH[i], 37, D_TOP[i], D_BOT[i], yr, yt, ym, "0", last, 5)
    p.add_layout(Span(location=threshold, dimension="width", line_color="black", line_width=3, level="underlay"))
    p.line(xs, ys, line_color=PURPLE, line_alpha=0.5, line_width=3)
    p.scatter(xs, ys, size=14, color=PURPLE, marker="circle")
    dfigs.append(p)
    dstrips.append(strip(name, D_FH[i], D_TOP[i], D_BOT[i]))

D_H = sum(D_TOP) + sum(D_FH) + sum(D_BOT)
dlab = blank(78, D_H)
add_label(dlab, "d", 16, 369, "38px", bold=True)
add_label(dlab, "-log10(p-value)", 54, 226, LAB_FS, angle=math.pi / 2)

layout = column(
    row(lab_a, fa, lab_b, fb, column(leg_title, leg_ab)),
    hdr_c,
    row(column(*c_rows), leg_c),
    row(dlab, column(*dfigs), column(*dstrips)),
)

open("out.html", "w").write(file_html(layout, INLINE))
